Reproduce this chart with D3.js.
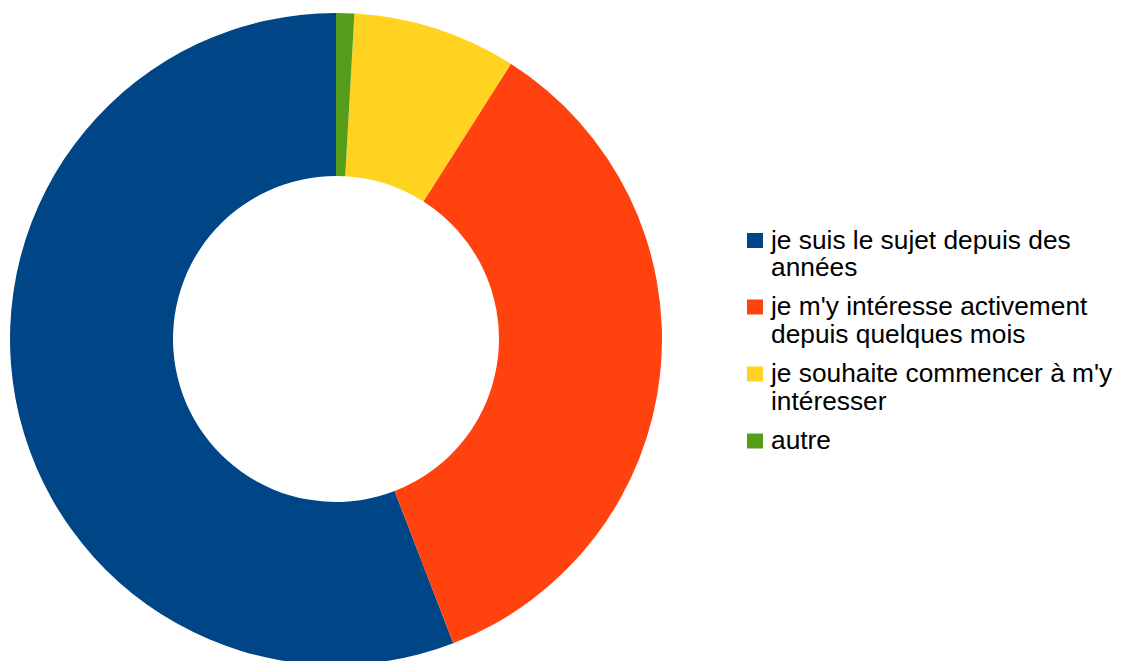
<!DOCTYPE html>
<html><head><meta charset="utf-8">
<script src="https://cdn.jsdelivr.net/npm/d3@7"></script>
<style>body{margin:0;background:#fff;} svg{display:block;}</style>
</head><body>
<svg id="c" width="1121" height="661"></svg>
<script>
const categories = [
  ["je suis le sujet depuis des", "années"],
  ["je m'y intéresse activement", "depuis quelques mois"],
  ["je souhaite commencer à m'y", "intéresser"],
  ["autre"]
];
const values = [62, 39, 9, 1];
const colors = ["#004586", "#ff420e", "#ffd320", "#579d1c"];

const svg = d3.select("#c");
const cx = 336, cy = 339, R = 326, r = 163;
const pie = d3.pie().sort(null).startAngle(0).endAngle(-2 * Math.PI);
const arc = d3.arc().innerRadius(r).outerRadius(R);
const g = svg.append("g").attr("transform", `translate(${cx},${cy})`);
g.selectAll("path").data(pie(values)).join("path")
  .attr("d", arc).attr("fill", (d, i) => colors[i]);

const lg = svg.append("g").attr("transform", "translate(747,0)");
const fs = 26.3, lineH = 27.5;
const baselines = [248.5, 315, 382, 449];
categories.forEach((lines, i) => {
  const b = baselines[i];
  lg.append("rect").attr("x", 0).attr("y", b - 15.5).attr("width", 16).attr("height", 15).attr("fill", colors[i]);
  const t = lg.append("text").attr("x", 24).attr("y", b)
    .attr("font-family", "Liberation Sans, Arial, sans-serif").attr("font-size", fs).attr("fill", "#000");
  lines.forEach((l, j) => t.append("tspan").attr("x", 24).attr("y", b + j * lineH).text(l));
});
</script>
</body></html>
